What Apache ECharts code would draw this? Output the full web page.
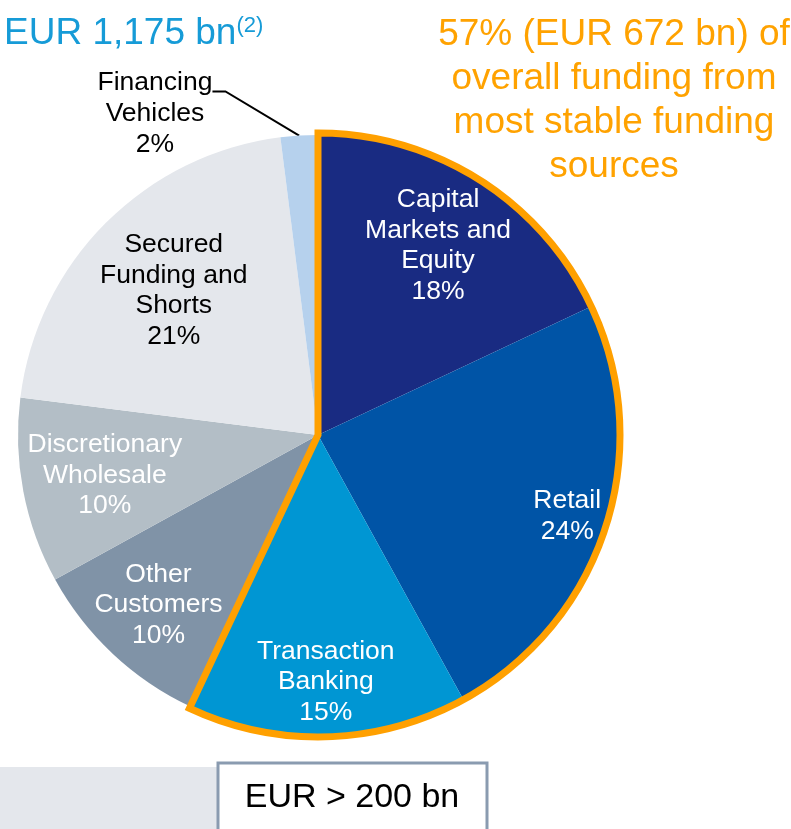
<!DOCTYPE html>
<html>
<head>
<meta charset="utf-8">
<script src="https://cdn.jsdelivr.net/npm/echarts@6/dist/echarts.min.js"></script>
<style>
  html, body { margin: 0; padding: 0; background: #fff; }
  #fundingMix { width: 791px; height: 829px; }
</style>
</head>
<body>
<div id="fundingMix"></div>
<script>
// funding sources, clockwise from 12 o'clock
const sourceNames = [
  'Capital\nMarkets and\nEquity',
  'Retail',
  'Transaction\nBanking',
  'Other\nCustomers',
  'Discretionary\nWholesale',
  'Secured\nFunding and\nShorts',
  'Financing\nVehicles'
];
const sourceShares = [18, 24, 15, 10, 10, 21, 2];
const sourceColors = ['#192b82', '#0054a6', '#0096d3', '#8093a7', '#b3bec6', '#e4e7ec', '#b6d1ed'];
const sourceLabelColors = ['#fff', '#fff', '#fff', '#fff', '#fff', '#000', '#000'];
const stableCount = 3; // first three sources = most stable funding

const stableShare = sourceShares.slice(0, stableCount).reduce((a, b) => a + b, 0);

const FONT = '"Liberation Sans", Arial, sans-serif';
const CENTER = [318, 435];
const R = 300;
// how far from the centre each inside label sits (px)
const labelDist = [224, 262, 247, 233, 217, 204];
const LAST = sourceNames.length - 1;

const chart = echarts.init(document.getElementById('fundingMix'));

chart.setOption({
  animation: false,
  title: [
    {
      text: 'EUR 1,175 bn{sup|(2)}',
      left: -1,
      top: 10,
      textStyle: {
        fontFamily: FONT,
        fontSize: 37,
        fontWeight: 'normal',
        color: '#169bd7',
        rich: {
          sup: { fontFamily: FONT, fontSize: 22, color: '#169bd7', verticalAlign: 'top' }
        }
      }
    },
    {
      text: '57% (EUR 672 bn) of\noverall funding from\nmost stable funding\nsources',
      left: 609,
      top: 8,
      textAlign: 'center',
      textStyle: {
        fontFamily: FONT,
        fontSize: 37,
        fontWeight: 'normal',
        lineHeight: 44,
        color: '#ffa200'
      }
    }
  ],
  series: [
    {
      // the pie itself, only the small slice gets an outside label
      type: 'pie',
      center: CENTER,
      radius: R,
      startAngle: 90,
      silent: true,
      itemStyle: { borderWidth: 0 },
      data: sourceNames.map((n, i) => ({
        name: n,
        value: sourceShares[i],
        itemStyle: { color: sourceColors[i] },
        label: { show: i === LAST },
        labelLine: { show: i === LAST }
      })),
      label: {
        position: 'outside',
        formatter: '{b}\n{d}%',
        fontFamily: FONT,
        fontSize: 26.5,
        lineHeight: 31,
        align: 'center',
        color: '#000',
        padding: [44, 0, 0, 0]
      },
      labelLine: {
        lineStyle: { color: '#000', width: 2 },
        length: 30,
        length2: 13
      },
      labelLayout: function (params) {
        if (params.dataIndex !== LAST) return;
        return { x: 155, y: 23, align: 'center', verticalAlign: 'top' };
      }
    },
    {
      // transparent copy used for the inside labels
      type: 'pie',
      center: CENTER,
      radius: [R * 0.53, R],
      startAngle: 90,
      silent: true,
      itemStyle: { color: 'rgba(0,0,0,0)' },
      labelLine: { show: false },
      data: sourceNames.map((n, i) => ({
        name: n,
        value: sourceShares[i],
        label: { show: i < LAST, color: sourceLabelColors[i] }
      })),
      label: {
        position: 'inside',
        formatter: '{b}\n{d}%',
        fontFamily: FONT,
        fontSize: 26.5,
        lineHeight: 30.5,
        align: 'center'
      },
      labelLayout: function (params) {
        const r = params.labelRect;
        const cx = r.x + r.width / 2;
        const cy = r.y + r.height / 2;
        const vx = cx - CENTER[0];
        const vy = cy - CENTER[1];
        const len = Math.sqrt(vx * vx + vy * vy) || 1;
        const k = labelDist[params.dataIndex] / len;
        return { dx: vx * k - vx, dy: vy * k - vy };
      }
    },
    {
      // orange outline around the stable share
      type: 'pie',
      center: CENTER,
      radius: R + 2,
      startAngle: 90,
      silent: true,
      z: 5,
      label: { show: false },
      labelLine: { show: false },
      data: [
        { value: stableShare, itemStyle: { color: 'rgba(0,0,0,0)', borderColor: '#ffa000', borderWidth: 7, borderJoin: 'miter' } },
        { value: 100 - stableShare, itemStyle: { color: 'rgba(0,0,0,0)', borderWidth: 0 } }
      ]
    }
  ],
  graphic: [
    {
      type: 'rect',
      shape: { x: 0, y: 767, width: 217, height: 70 },
      style: { fill: '#e4e7ec' },
      silent: true
    },
    {
      type: 'rect',
      shape: { x: 218, y: 763, width: 269, height: 70 },
      style: { fill: '#fff', stroke: '#8a9bb0', lineWidth: 3 },
      silent: true
    },
    {
      type: 'text',
      x: 352,
      y: 798,
      style: {
        text: 'EUR > 200 bn',
        fontFamily: FONT,
        fontSize: 34,
        fill: '#000',
        align: 'center',
        verticalAlign: 'middle'
      },
      silent: true
    }
  ]
});
</script>
</body>
</html>
